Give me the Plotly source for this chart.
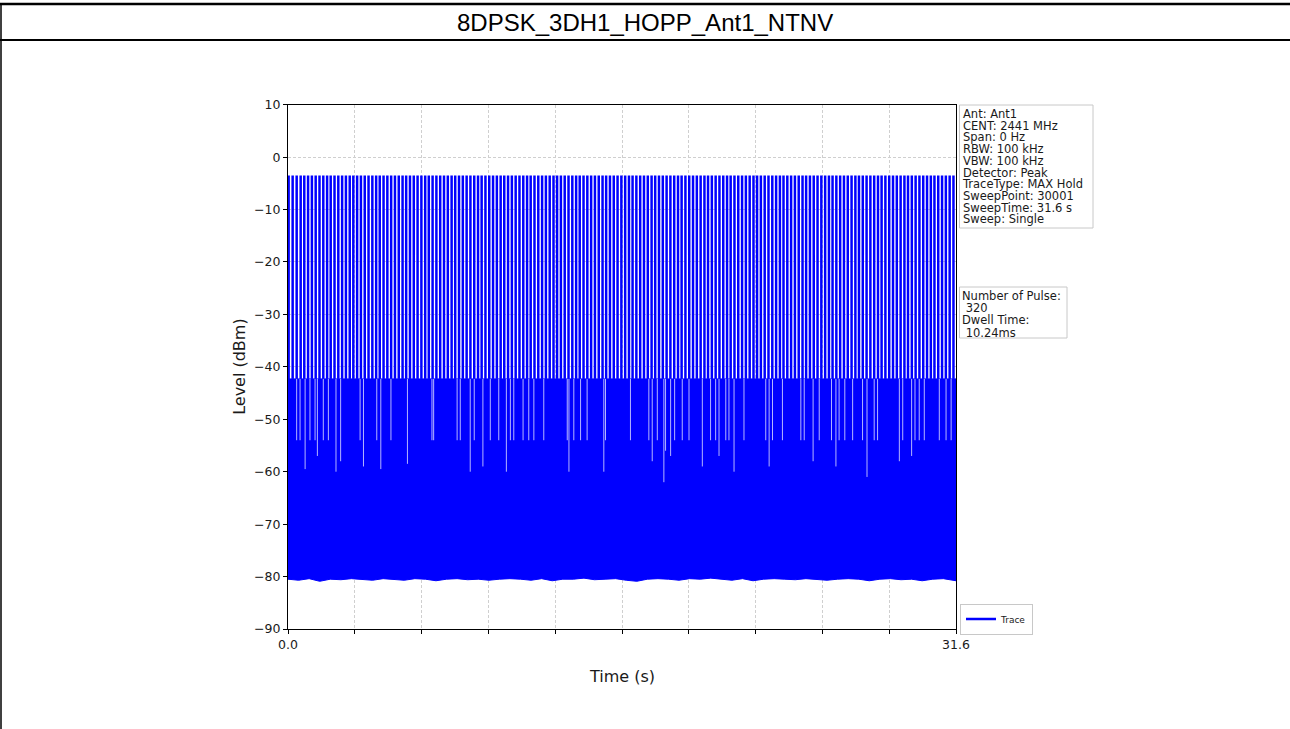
import plotly.graph_objects as go

# ---------------- data ----------------
title_text = "8DPSK_3DH1_HOPP_Ant1_NTNV"
x_title = "Time (s)"
y_title = "Level (dBm)"
trace_name = "Trace"

x_range = [0, 31.6]
y_range = [-90, 10]
x_tickvals = [0, 3.16, 6.32, 9.48, 12.64, 15.8, 18.96, 22.12, 25.28, 28.44, 31.6]
x_ticktext = ["0.0", "", "", "", "", "", "", "", "", "", "31.6"]
y_tickvals = [-90, -80, -70, -60, -50, -40, -30, -20, -10, 0, 10]
y_ticktext = ["\u221290", "\u221280", "\u221270", "\u221260", "\u221250", "\u221240",
              "\u221230", "\u221220", "\u221210", "0", "10"]

# pulse peaks (s) and level (dBm)
pulse_times = [
    0.03, 0.22, 0.41, 0.60, 0.77, 0.95, 1.13, 1.31, 1.49, 1.67,
    1.85, 2.02, 2.20, 2.38, 2.56, 2.74, 2.92, 3.09, 3.27, 3.45,
    3.63, 3.81, 3.99, 4.17, 4.34, 4.52, 4.70, 4.88, 5.06, 5.24,
    5.42, 5.59, 5.77, 5.95, 6.13, 6.31, 6.49, 6.66, 6.84, 7.02,
    7.20, 7.38, 7.56, 7.74, 7.91, 8.09, 8.27, 8.45, 8.63, 8.81,
    8.99, 9.16, 9.34, 9.52, 9.70, 9.88, 10.06, 10.23, 10.41, 10.59,
    10.77, 10.95, 11.13, 11.31, 11.48, 11.66, 11.84, 12.02, 12.20, 12.38,
    12.56, 12.73, 12.91, 13.09, 13.27, 13.45, 13.63, 13.80, 13.98, 14.16,
    14.34, 14.52, 14.70, 14.88, 15.05, 15.23, 15.41, 15.59, 15.77, 15.95,
    16.13, 16.30, 16.48, 16.66, 16.84, 17.02, 17.20, 17.37, 17.55, 17.73,
    17.91, 18.09, 18.27, 18.45, 18.62, 18.80, 18.98, 19.16, 19.34, 19.52,
    19.70, 19.87, 20.05, 20.23, 20.41, 20.59, 20.77, 20.94, 21.12, 21.30,
    21.48, 21.66, 21.84, 22.02, 22.19, 22.37, 22.55, 22.73, 22.91, 23.09,
    23.27, 23.44, 23.62, 23.80, 23.98, 24.16, 24.34, 24.51, 24.69, 24.87,
    25.05, 25.23, 25.41, 25.59, 25.76, 25.94, 26.12, 26.30, 26.48, 26.66,
    26.84, 27.01, 27.19, 27.37, 27.55, 27.73, 27.91, 28.08, 28.26, 28.44,
    28.62, 28.80, 28.98, 29.16, 29.33, 29.51, 29.69, 29.87, 30.05, 30.23,
    30.41, 30.58, 30.76, 30.94, 31.12, 31.30, 31.48,
]
pulse_peak_db = -3.5

# upper edge of dense noise band (dBm)
band_top_db = -42.3

# lower edge of noise band: time (s) and level (dBm)
floor_t = [
    0.0, 0.5, 1.0, 1.5, 2.0, 2.5, 3.0, 3.5, 4.0, 4.5,
    5.0, 5.5, 6.0, 6.5, 7.0, 7.5, 8.0, 8.5, 9.0, 9.5,
    10.0, 10.5, 11.0, 11.5, 12.0, 12.5, 13.0, 13.5, 14.0, 14.5,
    15.0, 15.5, 16.0, 16.5, 17.0, 17.5, 18.0, 18.5, 19.0, 19.5,
    20.0, 20.5, 21.0, 21.5, 22.0, 22.5, 23.0, 23.5, 24.0, 24.5,
    25.0, 25.5, 26.0, 26.5, 27.0, 27.5, 28.0, 28.5, 29.0, 29.5,
    30.0, 30.5, 31.0, 31.5, 31.6,
]
floor_db = [
    -80.5, -80.7, -80.4, -80.9, -80.5, -80.6, -80.4, -80.5, -80.7, -80.4,
    -80.5, -80.7, -80.4, -80.5, -80.8, -80.5, -80.4, -80.6, -80.5, -80.7,
    -80.5, -80.4, -80.5, -80.7, -80.4, -80.8, -80.5, -80.5, -80.3, -80.6,
    -80.5, -80.4, -80.7, -80.9, -80.5, -80.4, -80.5, -80.7, -80.4, -80.5,
    -80.3, -80.5, -80.7, -80.4, -80.8, -80.5, -80.4, -80.5, -80.6, -80.4,
    -80.5, -80.7, -80.5, -80.4, -80.5, -80.8, -80.5, -80.4, -80.6, -80.5,
    -80.8, -80.5, -80.4, -80.7, -80.8,
]

# short gaps under the band top: time (s) and lowest reach (dBm)
dip_t = [
    0.41, 0.57, 0.81, 1.04, 1.28, 1.39, 1.67, 1.91, 2.27, 2.49,
    3.41, 3.57, 4.20, 4.39, 4.87, 5.65, 6.81, 6.89, 8.00, 8.15,
    8.62, 8.81, 9.22, 9.57, 9.97, 10.33, 10.52, 10.68, 11.12, 11.39,
    11.63, 12.10, 13.21, 13.29, 13.52, 13.84, 14.15, 14.94, 15.02, 16.20,
    17.07, 17.23, 17.47, 17.78, 17.86, 18.10, 18.29, 18.65, 18.97, 19.60,
    19.99, 20.23, 20.39, 20.71, 20.86, 21.10, 21.57, 22.60, 22.76, 22.92,
    23.39, 24.26, 24.42, 24.84, 25.13, 25.71, 25.92, 26.07, 26.34, 26.71,
    27.18, 27.39, 27.73, 27.89, 28.92, 29.08, 29.50, 29.66, 29.86, 30.10,
    30.81, 31.13, 31.37,
]
dip_db = [
    -54, -54, -59.5, -54, -54, -57, -54, -54, -60, -58,
    -54, -59, -54, -59.5, -54, -58.5, -54, -54, -54, -54,
    -60, -54, -59, -54, -54, -60, -54, -54, -54, -54,
    -54, -54, -54, -60, -54, -54, -54, -60, -54, -54,
    -54, -58, -54, -62, -56, -57, -54, -54, -54, -59,
    -54, -54, -57, -54, -54, -60, -54, -54, -59, -54,
    -54, -54, -54, -58, -54, -54, -59, -54, -54, -54,
    -54, -61, -54, -54, -58, -54, -57, -54, -54, -54,
    -54, -54, -54,
]

info_lines = ["Ant: Ant1", "CENT: 2441 MHz", "Span: 0 Hz", "RBW: 100 kHz",
              "VBW: 100 kHz", "Detector: Peak", "TraceType: MAX Hold",
              "SweepPoint: 30001", "SweepTime: 31.6 s", "Sweep: Single"]
pulse_info_lines = ["Number of Pulse:", "\u00a0320", "Dwell Time:", "\u00a010.24ms"]

# ---------------- layout geometry (pixels) ----------------
W, H = 1290, 729
PX0, PX1 = 288, 956
PY0, PY1 = 104.7, 629
BLUE = "#0000ff"
FONT = "DejaVu Sans"
TXT = "#1a1a1a"


def fx(px):
    return px / W


def fy(py):
    return 1 - py / H


def block(lines, size):
    return "<br>".join('<span style="font-size:%spx">%s</span>' % (size, s) for s in lines)


fig = go.Figure()

# dense noise band
band_x = list(floor_t) + list(reversed(floor_t))
band_y = list(floor_db) + [band_top_db] * len(floor_t)
fig.add_trace(go.Scatter(x=band_x, y=band_y, mode="lines", fill="toself",
                         fillcolor=BLUE, line=dict(color=BLUE, width=1),
                         showlegend=False, hoverinfo="skip"))

# pulses
px_, py_ = [], []
for t in pulse_times:
    px_ += [t, t, None]
    py_ += [band_top_db, pulse_peak_db, None]
fig.add_trace(go.Scatter(x=px_, y=py_, mode="lines", name=trace_name,
                         line=dict(color=BLUE, width=2.5), showlegend=True))

# gaps in the band top
dx_, dy_ = [], []
for t, d in zip(dip_t, dip_db):
    dx_ += [t, t, None]
    dy_ += [band_top_db, d, None]
fig.add_trace(go.Scatter(x=dx_, y=dy_, mode="lines",
                         line=dict(color="rgba(225,225,255,0.8)", width=1),
                         showlegend=False, hoverinfo="skip"))

shapes = [
    # page frame lines
    dict(type="line", xref="paper", yref="paper", x0=0, x1=1, y0=fy(4), y1=fy(4),
         line=dict(color="black", width=2.5)),
    dict(type="line", xref="paper", yref="paper", x0=0, x1=1, y0=fy(40), y1=fy(40),
         line=dict(color="black", width=2)),
    dict(type="line", xref="paper", yref="paper", x0=fx(1), x1=fx(1), y0=fy(4), y1=0,
         line=dict(color="black", width=1.5)),
    # info boxes
    dict(type="rect", xref="paper", yref="paper", x0=fx(959.5), x1=fx(1093), y0=fy(105), y1=fy(228),
         line=dict(color="#c8c8c8", width=1), fillcolor="white"),
    dict(type="rect", xref="paper", yref="paper", x0=fx(959.5), x1=fx(1067), y0=fy(287), y1=fy(338),
         line=dict(color="#c8c8c8", width=1), fillcolor="white"),
]

annotations = [
    dict(text=title_text, x=fx(645), y=fy(22), xref="paper", yref="paper",
         showarrow=False, xanchor="center", yanchor="middle",
         font=dict(family="Liberation Sans, Arial", size=24, color="black")),
    dict(text=y_title, x=fx(240), y=fy((PY0 + PY1) / 2), xref="paper", yref="paper",
         showarrow=False, textangle=-90, xanchor="center", yanchor="middle",
         font=dict(family=FONT, size=16, color=TXT)),
    dict(text=x_title, x=fx((PX0 + PX1) / 2), y=fy(676), xref="paper", yref="paper",
         showarrow=False, xanchor="center", yanchor="middle",
         font=dict(family=FONT, size=16, color=TXT)),
    dict(text=block(info_lines, 11.5), x=fx(961), y=fy(106), xref="paper", yref="paper",
         showarrow=False, xanchor="left", yanchor="top", align="left", borderpad=0,
         font=dict(family=FONT, size=9, color=TXT)),
    dict(text=block(pulse_info_lines, 11.5), x=fx(961), y=fy(287.5), xref="paper", yref="paper",
         showarrow=False, xanchor="left", yanchor="top", align="left", borderpad=0,
         font=dict(family=FONT, size=9.4, color=TXT)),
]

axis_common = dict(showline=True, linecolor="black", linewidth=1, mirror=True,
                   ticks="outside", ticklen=4, tickwidth=1, tickcolor="black",
                   showgrid=True, gridcolor="#cfcfcf", gridwidth=1, griddash="3px,2px",
                   zeroline=False, tickfont=dict(family=FONT, size=12.5, color=TXT),
                   automargin=False)

fig.update_layout(
    width=W, height=H, autosize=False,
    margin=dict(l=0, r=0, t=0, b=0),
    paper_bgcolor="white", plot_bgcolor="white",
    xaxis=dict(domain=[PX0 / W, PX1 / W], range=x_range, tickmode="array",
               tickvals=x_tickvals, ticktext=x_ticktext, **axis_common),
    yaxis=dict(domain=[1 - PY1 / H, 1 - PY0 / H], range=y_range, tickmode="array",
               tickvals=y_tickvals, ticktext=y_ticktext, **axis_common),
    shapes=shapes,
    annotations=annotations,
    showlegend=True,
    legend=dict(x=fx(960), y=fy(619), xanchor="left", yanchor="middle",
                bordercolor="#c8c8c8", borderwidth=1, bgcolor="white",
                font=dict(family=FONT, size=9, color=TXT),
                itemwidth=30, tracegroupgap=0),
)

fig.write_html(
    "out.html",
    config={"displayModeBar": False},
    post_script="document.body.style.margin='0';document.body.style.overflow='hidden';",
)
